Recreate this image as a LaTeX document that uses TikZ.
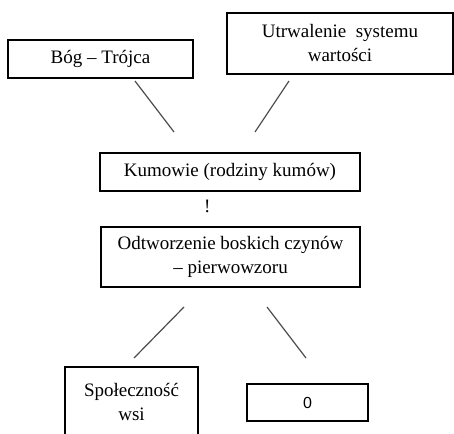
\documentclass[tikz,border=0pt]{standalone}
\usepackage{fontspec}
\setmainfont{Liberation Serif}
\newfontfamily\boxfont[Ligatures=TeX]{Liberation Serif}
\newfontfamily\zerofont{Liberation Sans}
\usetikzlibrary{positioning}

\begin{document}
\begin{tikzpicture}[
    x=1pt, y=-1pt,
    box/.style={rectangle, draw, line width=1.4pt, align=center, inner sep=0pt,
      font=\boxfont\fontsize{19}{24}\selectfont},
    link/.style={draw=black!70, line width=1.2pt}
]
    \useasboundingbox (0,0) rectangle (454,433);

    \node[box, minimum width=185pt, minimum height=38pt] (bog) at (100.5,59) {Bóg – Trójca};
    \node[box, minimum width=226pt, minimum height=61pt] (wartosci) at (340,43.5) {Utrwalenie\ \ systemu\\wartości};
    \node[box, minimum width=260pt, minimum height=38pt] (kumowie) at (230,172) {Kumowie (rodziny kumów)};
    \node[font=\boxfont\fontsize{19}{24}\selectfont, below=8pt of kumowie.south west, xshift=108pt, inner sep=0pt] (excl) {!};
    \node[box, minimum width=259pt, minimum height=60pt] (odtworzenie) at (230.5,257) {Odtworzenie boskich czynów\\– pierwowzoru};
    \node[box, minimum width=133pt, minimum height=69pt] (wies) at (131.5,401.5) {Społeczność\\wsi};
    \node[box, minimum width=121pt, minimum height=37pt, font=\zerofont\fontsize{16}{20}\selectfont] (zero) at (307.5,402.5) {0};

    % free lines between the boxes
    \coordinate (l1a) at (135,81);  \coordinate (l1b) at (174,132);
    \coordinate (l2a) at (289,81);  \coordinate (l2b) at (255,132);
    \coordinate (l3a) at (184,307); \coordinate (l3b) at (134,358);
    \coordinate (l4a) at (267,307); \coordinate (l4b) at (306,358);

    \draw[link] (l1a) -- (l1b);
    \draw[link] (l2a) -- (l2b);
    \draw[link] (l3a) -- (l3b);
    \draw[link] (l4a) -- (l4b);
\end{tikzpicture}
\end{document}
